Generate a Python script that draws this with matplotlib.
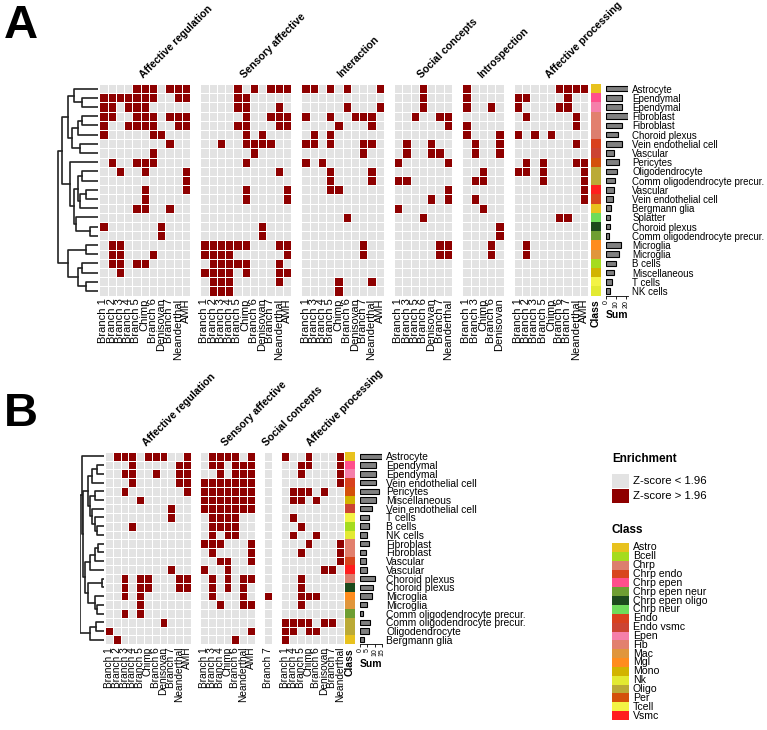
import numpy as np
import matplotlib.pyplot as plt
from matplotlib.colors import ListedColormap
from matplotlib.patches import Rectangle

plt.rcParams['font.family'] = ['Liberation Sans', 'DejaVu Sans']

# ---------------- data ----------------
full_cols = ["Branch 1", "Branch 2", "Branch 3", "Branch 4", "Branch 5", "Chimp",
             "Branch 6", "Denisovan", "Branch 7", "Neanderthal", "AMH"]

a_titles = ["Affective regulation", "Sensory affective", "Interaction",
            "Social concepts", "Introspection", "Affective processing"]
a_cols = [
    full_cols,
    full_cols,
    ["Branch 1", "Branch 3", "Branch 4", "Branch 5", "Chimp", "Branch 6",
     "Denisovan", "Branch 7", "Neanderthal", "AMH"],
    ["Branch 1", "Branch 3", "Branch 5", "Branch 6", "Denisovan", "Branch 7", "Neanderthal"],
    ["Branch 1", "Branch 3", "Chimp", "Branch 6", "Denisovan"],
    ["Branch 1", "Branch 2", "Branch 3", "Branch 5", "Chimp", "Branch 6",
     "Branch 7", "Neanderthal", "AMH"],
]
a_rows = ["Astrocyte", "Ependymal", "Ependymal", "Fibroblast", "Fibroblast",
          "Choroid plexus", "Vein endothelial cell", "Vascular", "Pericytes",
          "Oligodendrocyte", "Comm oligodendrocyte precur.", "Vascular",
          "Vein endothelial cell", "Bergmann glia", "Splatter", "Choroid plexus",
          "Comm oligodendrocyte precur.", "Microglia", "Microglia", "B cells",
          "Miscellaneous", "T cells", "NK cells"]
a_class = ["Astro", "Chrp epen", "Epen", "Fib", "Fib", "Chrp", "Endo", "Endo vsmc",
           "Per", "Oligo", "Oligo", "Vsmc", "Chrp endo", "Astro", "Chrp neur",
           "Chrp epen oligo", "Chrp epen neur", "Mgl", "Mac", "Bcell", "Mono",
           "Tcell", "Nk"]

a_aff_reg = ["00001110111", "11111110011", "11011100000", "11001110111", "10011110011",
             "10000011000", "00000000100", "00000010000", "01001110000", "00100100001",
             "00000000001", "00000100001", "00000100000", "00001100100", "00000000000",
             "10000001000", "00000001000", "01100000000", "01100010000", "01101100000",
             "00100000000", "00000000000", "00000000000"]
a_sens_aff = ["00001010111", "00001100000", "00001100010", "00000100111", "00001100011",
              "00000101000", "00100111100", "00000010000", "00000100000", "00000000010",
              "00000000000", "00000100001", "00000100001", "00000000000", "00000000000",
              "00000001000", "00000001000", "11111100011", "11110000001", "01111100010",
              "11110100011", "01110000010", "01110000000"]
a_interaction = ["1101010001", "0000000000", "0000010001", "1001001110", "0000100010",
                 "0101000000", "1101000110", "0000000100", "1010000000", "0001000010",
                 "0001000010", "0001100000", "0000000000", "0000000000", "0000010000",
                 "0000000000", "0000000000", "0000000100", "0000000100", "0000000000",
                 "0000000000", "0000100010", "0000100000"]
a_social = ["0001000", "0001000", "0001000", "0010011", "0000001", "0000000", "0100100",
            "0100110", "1000001", "0000000", "1100000", "0000001", "0000101", "1000000",
            "0001000", "0000000", "0000000", "0000011", "0000011", "0000000", "0000000",
            "0000000", "0000000"]
a_intro = ["10000", "10000", "10010", "00000", "10000", "10001", "01001", "01001",
           "00000", "00100", "01100", "00000", "01000", "00100", "00000", "00001",
           "00001", "00010", "00010", "00000", "00000", "00000", "00000"]
a_aff_proc = ["000001111", "110000100", "100001100", "010000010", "000000010",
              "101010000", "000000010", "000000000", "010100011", "110100001",
              "000100001", "000000001", "000000001", "000000000", "000001100",
              "000000000", "000000000", "010000000", "010000000", "000000000",
              "000000000", "000000000", "000000000"]

b_titles = ["Affective regulation", "Sensory affective", "Social concepts",
            "Affective processing"]
b_cols = [
    full_cols,
    ["Branch 1", "Branch 3", "Branch 4", "Chimp", "Branch 6", "Neanderthal", "AMH"],
    ["Branch 7"],
    ["Branch 1", "Branch 4", "Branch 5", "Chimp", "Branch 6", "Denisovan",
     "Branch 7", "Neanderthal"],
]
b_rows = ["Astrocyte", "Ependymal", "Ependymal", "Vein endothelial cell", "Pericytes",
          "Miscellaneous", "Vein endothelial cell", "T cells", "B cells", "NK cells",
          "Fibroblast", "Fibroblast", "Vascular", "Vascular", "Choroid plexus",
          "Choroid plexus", "Microglia", "Microglia", "Comm oligodendrocyte precur.",
          "Comm oligodendrocyte precur.", "Oligodendrocyte", "Bergmann glia"]
b_class = ["Astro", "Chrp epen", "Epen", "Endo", "Per", "Mono", "Endo vsmc", "Tcell",
           "Bcell", "Nk", "Fib", "Fib", "Chrp endo", "Vsmc", "Chrp", "Chrp epen oligo",
           "Mgl", "Mac", "Chrp epen neur", "Oligo", "Oligo", "Astro"]

b_aff_reg = ["01110111001", "00010000011", "00110010011", "00010000011", "00100000001",
             "00001000000", "00000000100", "00000000100", "00010000000", "00000000000",
             "00000000000", "00000000000", "00000000000", "00000000100", "00101100011",
             "00101100011", "00101000000", "00001000000", "00101000000", "00000001000",
             "10000000000", "01000000000"]
b_sens_aff = ["0111101", "0110111", "0010111", "1111111", "1111111", "1111111",
              "1111111", "0111100", "0111100", "0101100", "1110001", "0100001",
              "0011001", "1001000", "0101011", "0101010", "0100010", "0010011",
              "0000000", "0000000", "0000001", "0000100"]
b_social = ["0", "0", "0", "0", "0", "0", "0", "0", "0", "0", "0", "0", "0", "0", "0",
            "0", "1", "0", "0", "0", "0", "0"]
b_aff_proc = ["10010001", "00110001", "00100001", "00000001", "01110100", "01101000",
              "00000000", "01000000", "00100000", "01001000", "00010001", "00100001",
              "00000001", "00000110", "00100000", "00100000", "00111000", "00100000",
              "00000000", "11110110", "11011000", "10000000"]

# dendrograms: [height, left, right], leaves are row indices
a_tree = [10,
          [9,
           [7.5, [6, 0, [4, 1, 2]], [6.5, [5, [4, 3, 4], 5], [4.5, 6, 7]]],
           [7, 8, [6, [5, [4, 9, 10], [4.5, [3, 11, 12], 13]], [5.5, 14, [2, 15, 16]]]]],
          [7.5, [3, 17, 18], [5, [4, 19, 20], [3, 21, 22]]]]
b_tree = [10,
          [9.5, 0,
           [9, [7, [5, [3, 1, 2], 3], [6, [4, 4, 5], [5, 6, [4, 7, [3, 8, 9]]]]],
            [8, [6, [4, [2.5, 10, 11], 12], 13], [7, [1, 14, 15], [4, 16, [3, 17, 18]]]]]],
          [6, [3.5, 19, 20], 21]]

class_names = ["Astro", "Bcell", "Chrp", "Chrp endo", "Chrp epen", "Chrp epen neur",
               "Chrp epen oligo", "Chrp neur", "Endo", "Endo vsmc", "Epen", "Fib",
               "Mac", "Mgl", "Mono", "Nk", "Oligo", "Per", "Tcell", "Vsmc"]
class_hex = ["#E8C21E", "#A5DC1E", "#DC7E6E", "#D8461E", "#FF4F8C", "#6E9E32",
             "#1C4A1C", "#6EDC5A", "#D9411E", "#CC4433", "#F57FAA", "#E2806E",
             "#E0963C", "#FF8C1E", "#D2B400", "#E3EA32", "#BBAA36", "#D4500A",
             "#F3F345", "#FF1E1E"]
class_colors = dict(zip(class_names, class_hex))

GREY, RED = "#E3E3E3", "#8E0000"
cell_cmap = ListedColormap([GREY, RED])

# ---------------- layout ----------------
W, H = 767, 730
fig = plt.figure(figsize=(W / 100, H / 100), dpi=100)


def px_axes(left, top, width, height):
    return fig.add_axes([left / W, 1 - (top + height) / H, width / W, height / H])


def draw_tree(ax, node):
    if isinstance(node, int):
        return node, 0.0
    h, a, b = node
    ya, ha = draw_tree(ax, a)
    yb, hb = draw_tree(ax, b)
    ax.plot([ha, h, h, hb], [ya, ya, yb, yb], color="#222222", lw=1.2)
    return (ya + yb) / 2, h


def draw_panel(p):
    n = len(p["rows"])
    mats = [np.array([[int(c) for c in r] for r in g]) for g in p["groups"]]
    units = sum(m.shape[1] for m in mats) + p["gap"] * (len(mats) - 1)
    hm_h = n * p["row_h"]

    ax = px_axes(p["x0"], p["top"], units * p["col_w"], hm_h)
    off = 0
    ticks, labels = [], []
    for m, title, cols in zip(mats, p["titles"], p["cols"]):
        k = m.shape[1]
        ax.pcolormesh(off + np.arange(k + 1), np.arange(n + 1), m, cmap=cell_cmap,
                      vmin=0, vmax=1, edgecolors="white", linewidth=0.5)
        ax.text(off + k / 2, -0.45, title, rotation=45, rotation_mode="anchor",
                ha="left", va="bottom", fontsize=7.6, fontweight="bold")
        ticks += list(off + np.arange(k) + 0.5)
        labels += cols
        off += k + p["gap"]
    ax.set_xlim(0, units)
    ax.set_ylim(n, 0)
    ax.set_xticks(ticks)
    ax.set_xticklabels(labels, rotation=90, fontsize=p["xfs"])
    ax.set_yticks([])
    ax.tick_params(axis="x", length=0, pad=2)
    for s in ax.spines.values():
        s.set_visible(False)

    # class strip
    cax = px_axes(p["class_x"], p["top"], p["class_w"], hm_h)
    cax.barh(np.arange(n), 1, height=1, color=[class_colors[c] for c in p["classes"]])
    cax.set_ylim(n - 0.5, -0.5)
    cax.set_xlim(0, 1)
    cax.set_xticks([0.5])
    cax.set_xticklabels(["Class"], rotation=90, fontsize=7.5, fontweight="bold")
    cax.set_yticks([])
    cax.tick_params(length=0, pad=3)
    for s in cax.spines.values():
        s.set_visible(False)

    # row sums
    sums = sum(m.sum(axis=1) for m in mats)
    bax = px_axes(p["bar_x"], p["top"], p["bar_w"], hm_h)
    bax.barh(np.arange(n), sums, height=0.62, color="#808080", edgecolor="black",
             linewidth=0.8)
    bax.set_ylim(n - 0.5, -0.5)
    bax.set_xlim(0, p["bar_max"])
    bax.set_xticks(p["bar_ticks"])
    bax.set_xticklabels([str(t) for t in p["bar_ticks"]], rotation=90, fontsize=5)
    bax.tick_params(axis="x", length=2, width=0.6, pad=1)
    for side in ["left", "top", "right"]:
        bax.spines[side].set_visible(False)
    bax.spines["bottom"].set_linewidth(0.6)
    bax.set_xlabel("Sum", fontsize=7.5, fontweight="bold", labelpad=2)
    bax.yaxis.tick_right()
    bax.set_yticks(np.arange(n))
    bax.set_yticklabels(p["rows"], fontsize=p["yfs"])
    bax.tick_params(axis="y", length=0, pad=3)

    # dendrogram
    dax = px_axes(p["dx0"], p["top"], p["dx1"] - p["dx0"], hm_h)
    draw_tree(dax, p["tree"])
    dax.set_xlim(p["tree"][0] * 1.02, 0)
    dax.set_ylim(n - 0.5, -0.5)
    dax.axis("off")


draw_panel(dict(rows=a_rows, classes=a_class, tree=a_tree, titles=a_titles, cols=a_cols,
                groups=[a_aff_reg, a_sens_aff, a_interaction, a_social, a_intro, a_aff_proc],
                top=84, row_h=9.2, x0=99.3, col_w=8.25, gap=1.25,
                class_x=591, class_w=9.5, bar_x=606, bar_w=22, bar_max=22,
                bar_ticks=[0, 10, 20], dx0=57, dx1=98, xfs=8, yfs=7.0))

draw_panel(dict(rows=b_rows, classes=b_class, tree=b_tree, titles=b_titles, cols=b_cols,
                groups=[b_aff_reg, b_sens_aff, b_social, b_aff_proc],
                top=452, row_h=8.73, x0=105, col_w=7.8, gap=1.2,
                class_x=345, class_w=10, bar_x=360, bar_w=22, bar_max=15,
                bar_ticks=[0, 5, 10, 15], dx0=80, dx1=104, xfs=7.3, yfs=7.4))

# panel letters
fig.text(4 / W, 1 - 4 / H, "A", fontsize=34, fontweight="bold", va="top", ha="left")
fig.text(4 / W, 1 - 392 / H, "B", fontsize=34, fontweight="bold", va="top", ha="left")

# legends
lax = px_axes(600, 440, 167, 290)
lax.set_xlim(600, 767)
lax.set_ylim(730, 440)
lax.axis("off")
lax.text(612, 459, "Enrichment", fontsize=8.5, fontweight="bold", va="center")
for i, (lab, col) in enumerate([("Z-score < 1.96", GREY), ("Z-score > 1.96", RED)]):
    y = 474 + i * 15
    lax.add_patch(Rectangle((612, y), 17, 14, facecolor=col, edgecolor="none"))
    lax.text(633, y + 7, lab, fontsize=8.2, va="center")
lax.text(612, 530, "Class", fontsize=8.5, fontweight="bold", va="center")
pitch = 8.85
for i, name in enumerate(class_names):
    y = 543 + i * pitch
    lax.add_patch(Rectangle((612, y), 17, pitch, facecolor=class_colors[name],
                            edgecolor="none"))
    lax.text(633, y + pitch / 2, name, fontsize=7.6, va="center")

fig.savefig("out.png", dpi=100)
